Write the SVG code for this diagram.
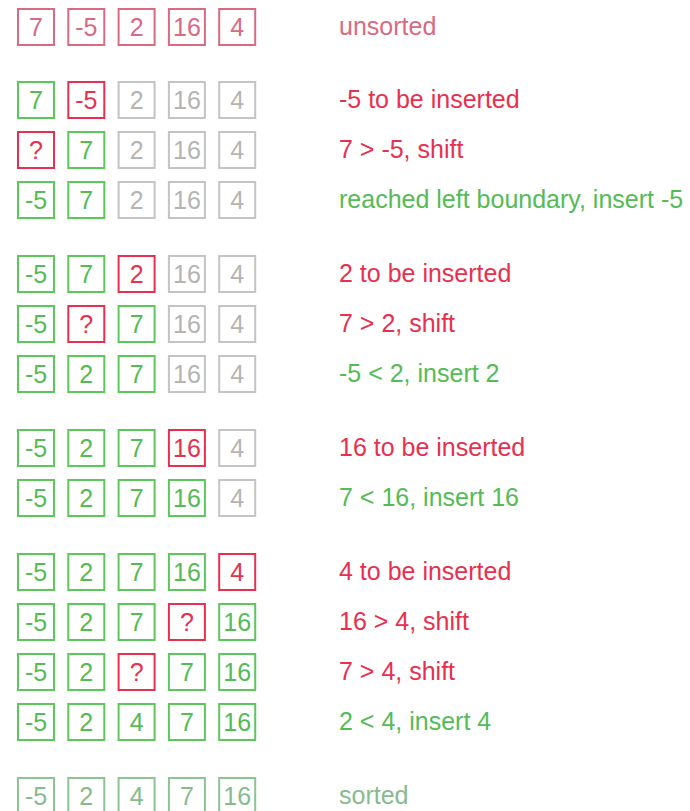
<svg xmlns="http://www.w3.org/2000/svg" width="690" height="811" viewBox="0 0 690 811">
<style>
rect{fill:none;stroke-width:2}
text{font-family:"Liberation Sans",Arial,sans-serif;font-size:25px}
.n{text-anchor:middle;font-size:25px}
rect.u{stroke:#d86a82}
text.u{fill:#d86a82}
rect.r{stroke:#e8304e}
text.r{fill:#e8304e}
rect.g{stroke:#5cc85c}
text.g{fill:#55bb55}
rect.x{stroke:#c4c4c4}
text.x{fill:#b4b4b4}
rect.s{stroke:#8cc494}
text.s{fill:#86bc8c}
</style>
<rect width="690" height="811" style="fill:#fff;stroke:none"/>
<g id="row1">
<rect class="u" x="18" y="9" width="36" height="36"/><text class="n u" x="36" y="36">7</text>
<rect class="u" x="68.3" y="9" width="36" height="36"/><text class="n u" x="86.3" y="36">-5</text>
<rect class="u" x="118.6" y="9" width="36" height="36"/><text class="n u" x="136.6" y="36">2</text>
<rect class="u" x="168.9" y="9" width="36" height="36"/><text class="n u" x="186.9" y="36">16</text>
<rect class="u" x="219.2" y="9" width="36" height="36"/><text class="n u" x="237.2" y="36">4</text>
<text class="u" x="339" y="35">unsorted</text>
</g>
<g id="row2">
<rect class="g" x="18" y="82" width="36" height="36"/><text class="n g" x="36" y="109">7</text>
<rect class="r" x="68.3" y="82" width="36" height="36"/><text class="n r" x="86.3" y="109">-5</text>
<rect class="x" x="118.6" y="82" width="36" height="36"/><text class="n x" x="136.6" y="109">2</text>
<rect class="x" x="168.9" y="82" width="36" height="36"/><text class="n x" x="186.9" y="109">16</text>
<rect class="x" x="219.2" y="82" width="36" height="36"/><text class="n x" x="237.2" y="109">4</text>
<text class="r" x="339" y="108">-5 to be inserted</text>
</g>
<g id="row3">
<rect class="r" x="18" y="132" width="36" height="36"/><text class="n r" x="36" y="159">?</text>
<rect class="g" x="68.3" y="132" width="36" height="36"/><text class="n g" x="86.3" y="159">7</text>
<rect class="x" x="118.6" y="132" width="36" height="36"/><text class="n x" x="136.6" y="159">2</text>
<rect class="x" x="168.9" y="132" width="36" height="36"/><text class="n x" x="186.9" y="159">16</text>
<rect class="x" x="219.2" y="132" width="36" height="36"/><text class="n x" x="237.2" y="159">4</text>
<text class="r" x="339" y="158">7 &gt; -5, shift</text>
</g>
<g id="row4">
<rect class="g" x="18" y="182" width="36" height="36"/><text class="n g" x="36" y="209">-5</text>
<rect class="g" x="68.3" y="182" width="36" height="36"/><text class="n g" x="86.3" y="209">7</text>
<rect class="x" x="118.6" y="182" width="36" height="36"/><text class="n x" x="136.6" y="209">2</text>
<rect class="x" x="168.9" y="182" width="36" height="36"/><text class="n x" x="186.9" y="209">16</text>
<rect class="x" x="219.2" y="182" width="36" height="36"/><text class="n x" x="237.2" y="209">4</text>
<text class="g" x="339" y="208">reached left boundary, insert -5</text>
</g>
<g id="row5">
<rect class="g" x="18" y="256" width="36" height="36"/><text class="n g" x="36" y="283">-5</text>
<rect class="g" x="68.3" y="256" width="36" height="36"/><text class="n g" x="86.3" y="283">7</text>
<rect class="r" x="118.6" y="256" width="36" height="36"/><text class="n r" x="136.6" y="283">2</text>
<rect class="x" x="168.9" y="256" width="36" height="36"/><text class="n x" x="186.9" y="283">16</text>
<rect class="x" x="219.2" y="256" width="36" height="36"/><text class="n x" x="237.2" y="283">4</text>
<text class="r" x="339" y="282">2 to be inserted</text>
</g>
<g id="row6">
<rect class="g" x="18" y="306" width="36" height="36"/><text class="n g" x="36" y="333">-5</text>
<rect class="r" x="68.3" y="306" width="36" height="36"/><text class="n r" x="86.3" y="333">?</text>
<rect class="g" x="118.6" y="306" width="36" height="36"/><text class="n g" x="136.6" y="333">7</text>
<rect class="x" x="168.9" y="306" width="36" height="36"/><text class="n x" x="186.9" y="333">16</text>
<rect class="x" x="219.2" y="306" width="36" height="36"/><text class="n x" x="237.2" y="333">4</text>
<text class="r" x="339" y="332">7 &gt; 2, shift</text>
</g>
<g id="row7">
<rect class="g" x="18" y="356" width="36" height="36"/><text class="n g" x="36" y="383">-5</text>
<rect class="g" x="68.3" y="356" width="36" height="36"/><text class="n g" x="86.3" y="383">2</text>
<rect class="g" x="118.6" y="356" width="36" height="36"/><text class="n g" x="136.6" y="383">7</text>
<rect class="x" x="168.9" y="356" width="36" height="36"/><text class="n x" x="186.9" y="383">16</text>
<rect class="x" x="219.2" y="356" width="36" height="36"/><text class="n x" x="237.2" y="383">4</text>
<text class="g" x="339" y="382">-5 &lt; 2, insert 2</text>
</g>
<g id="row8">
<rect class="g" x="18" y="430" width="36" height="36"/><text class="n g" x="36" y="457">-5</text>
<rect class="g" x="68.3" y="430" width="36" height="36"/><text class="n g" x="86.3" y="457">2</text>
<rect class="g" x="118.6" y="430" width="36" height="36"/><text class="n g" x="136.6" y="457">7</text>
<rect class="r" x="168.9" y="430" width="36" height="36"/><text class="n r" x="186.9" y="457">16</text>
<rect class="x" x="219.2" y="430" width="36" height="36"/><text class="n x" x="237.2" y="457">4</text>
<text class="r" x="339" y="456">16 to be inserted</text>
</g>
<g id="row9">
<rect class="g" x="18" y="480" width="36" height="36"/><text class="n g" x="36" y="507">-5</text>
<rect class="g" x="68.3" y="480" width="36" height="36"/><text class="n g" x="86.3" y="507">2</text>
<rect class="g" x="118.6" y="480" width="36" height="36"/><text class="n g" x="136.6" y="507">7</text>
<rect class="g" x="168.9" y="480" width="36" height="36"/><text class="n g" x="186.9" y="507">16</text>
<rect class="x" x="219.2" y="480" width="36" height="36"/><text class="n x" x="237.2" y="507">4</text>
<text class="g" x="339" y="506">7 &lt; 16, insert 16</text>
</g>
<g id="row10">
<rect class="g" x="18" y="554" width="36" height="36"/><text class="n g" x="36" y="581">-5</text>
<rect class="g" x="68.3" y="554" width="36" height="36"/><text class="n g" x="86.3" y="581">2</text>
<rect class="g" x="118.6" y="554" width="36" height="36"/><text class="n g" x="136.6" y="581">7</text>
<rect class="g" x="168.9" y="554" width="36" height="36"/><text class="n g" x="186.9" y="581">16</text>
<rect class="r" x="219.2" y="554" width="36" height="36"/><text class="n r" x="237.2" y="581">4</text>
<text class="r" x="339" y="580">4 to be inserted</text>
</g>
<g id="row11">
<rect class="g" x="18" y="604" width="36" height="36"/><text class="n g" x="36" y="631">-5</text>
<rect class="g" x="68.3" y="604" width="36" height="36"/><text class="n g" x="86.3" y="631">2</text>
<rect class="g" x="118.6" y="604" width="36" height="36"/><text class="n g" x="136.6" y="631">7</text>
<rect class="r" x="168.9" y="604" width="36" height="36"/><text class="n r" x="186.9" y="631">?</text>
<rect class="g" x="219.2" y="604" width="36" height="36"/><text class="n g" x="237.2" y="631">16</text>
<text class="r" x="339" y="630">16 &gt; 4, shift</text>
</g>
<g id="row12">
<rect class="g" x="18" y="654" width="36" height="36"/><text class="n g" x="36" y="681">-5</text>
<rect class="g" x="68.3" y="654" width="36" height="36"/><text class="n g" x="86.3" y="681">2</text>
<rect class="r" x="118.6" y="654" width="36" height="36"/><text class="n r" x="136.6" y="681">?</text>
<rect class="g" x="168.9" y="654" width="36" height="36"/><text class="n g" x="186.9" y="681">7</text>
<rect class="g" x="219.2" y="654" width="36" height="36"/><text class="n g" x="237.2" y="681">16</text>
<text class="r" x="339" y="680">7 &gt; 4, shift</text>
</g>
<g id="row13">
<rect class="g" x="18" y="704" width="36" height="36"/><text class="n g" x="36" y="731">-5</text>
<rect class="g" x="68.3" y="704" width="36" height="36"/><text class="n g" x="86.3" y="731">2</text>
<rect class="g" x="118.6" y="704" width="36" height="36"/><text class="n g" x="136.6" y="731">4</text>
<rect class="g" x="168.9" y="704" width="36" height="36"/><text class="n g" x="186.9" y="731">7</text>
<rect class="g" x="219.2" y="704" width="36" height="36"/><text class="n g" x="237.2" y="731">16</text>
<text class="g" x="339" y="730">2 &lt; 4, insert 4</text>
</g>
<g id="row14">
<rect class="s" x="18" y="778" width="36" height="36"/><text class="n s" x="36" y="805">-5</text>
<rect class="s" x="68.3" y="778" width="36" height="36"/><text class="n s" x="86.3" y="805">2</text>
<rect class="s" x="118.6" y="778" width="36" height="36"/><text class="n s" x="136.6" y="805">4</text>
<rect class="s" x="168.9" y="778" width="36" height="36"/><text class="n s" x="186.9" y="805">7</text>
<rect class="s" x="219.2" y="778" width="36" height="36"/><text class="n s" x="237.2" y="805">16</text>
<text class="s" x="339" y="804">sorted</text>
</g>
</svg>
